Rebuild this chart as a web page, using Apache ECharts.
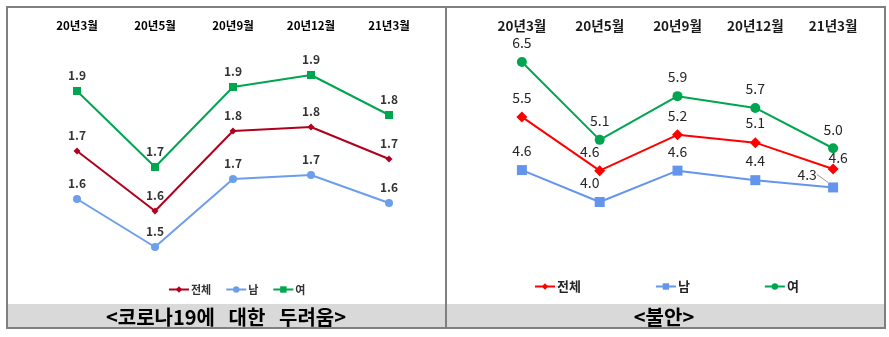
<!DOCTYPE html>
<html>
<head>
<meta charset="utf-8">
<script src="https://cdn.jsdelivr.net/npm/echarts@6/dist/echarts.min.js"></script>
<style>
  html, body { margin: 0; padding: 0; background: #fff; }
  #chart { width: 889px; height: 337px; }
</style>
</head>
<body>
<div id="chart"></div>
<script>
// Survey waves
const categories = ['20년3월', '20년5월', '20년9월', '20년12월', '21년3월'];

// 코로나19에 대한 두려움
const fearTotal = [1.74, 1.59, 1.79, 1.80, 1.72];
const fearMale = [1.62, 1.50, 1.67, 1.68, 1.61];
const fearFemale = [1.89, 1.70, 1.90, 1.93, 1.83];

// 불안
const anxTotal = [5.52, 4.56, 5.20, 5.06, 4.59];
const anxMale = [4.57, 4.00, 4.56, 4.39, 4.26];
const anxFemale = [6.50, 5.11, 5.89, 5.68, 4.96];

const seriesNames = ['전체', '남', '여'];
const panelTitles = ['<코로나19에   대한   두려움>', '<불안>'];

const FONT = '"Noto Sans CJK KR", "Noto Sans", sans-serif';
const fmt = p => p.value.toFixed(1);

// per-point label nudges where labels crowd each other
function withLabel(values, tweaks) {
  return values.map((v, i) => tweaks[i] ? Object.assign({ value: v }, tweaks[i]) : v);
}

const leftLabel = { show: true, position: 'top', distance: 6, formatter: fmt,
  fontFamily: FONT, fontSize: 12, fontWeight: 'bold', color: '#333' };
const rightLabel = { show: true, position: 'top', distance: 7, formatter: fmt,
  fontFamily: FONT, fontSize: 14, color: '#262626' };

function lineSeries(name, data, idx, color, symbol, size, label, extra) {
  return Object.assign({
    name, type: 'line', data, xAxisIndex: idx, yAxisIndex: idx,
    symbol, symbolSize: size, showSymbol: true,
    lineStyle: { color, width: 2 }, itemStyle: { color },
    label, emphasis: { disabled: true }, animation: false, z: 3
  }, extra || {});
}

const chart = echarts.init(document.getElementById('chart'), null, { renderer: 'canvas' });

const option = {
  animation: false,
  graphic: [
    { type: 'rect', shape: { x: 446, y: 304, width: 438, height: 24 }, style: { fill: '#d9d9d9' }, z: -1 },
    { type: 'rect', shape: { x: 8, y: 304, width: 438, height: 24 }, style: { fill: '#d9d9d9' }, z: -1 },
    { type: 'rect', shape: { x: 7, y: 7, width: 878, height: 321 }, style: { fill: 'none', stroke: '#7f7f7f', lineWidth: 2 }, z: 5 },
    { type: 'line', shape: { x1: 446, y1: 7, x2: 446, y2: 328 }, style: { stroke: '#7f7f7f', lineWidth: 2 }, z: 5 },
    { type: 'text', x: 226, y: 317, style: { text: panelTitles[0], font: 'bold 20px ' + FONT, fill: '#000', align: 'center', verticalAlign: 'middle' }, z: 6 },
    { type: 'text', x: 664, y: 317, style: { text: panelTitles[1], font: 'bold 20px ' + FONT, fill: '#000', align: 'center', verticalAlign: 'middle' }, z: 6 }
  ],
  legend: [
    {
      data: seriesNames.map(n => ({ name: n })), left: 163, top: 279,
      itemWidth: 20, itemHeight: 8, itemGap: 14,
      textStyle: { fontFamily: FONT, fontSize: 11, fontWeight: 'bold', color: '#333', padding: [0, 0, 0, -3] },
      selectedMode: false
    },
    {
      data: seriesNames.map(n => ({ name: n + ' ' })), left: 529, top: 275,
      itemWidth: 20, itemHeight: 8, itemGap: 74,
      textStyle: { fontFamily: FONT, fontSize: 13, fontWeight: 'bold', color: '#262626', padding: [0, 0, 0, -3] },
      selectedMode: false,
      formatter: n => n.trim()
    }
  ],
  grid: [
    { left: 38, top: 47, width: 390, height: 240 },
    { left: 483, top: 34, width: 389, height: 224 }
  ],
  xAxis: [0, 1].map(i => ({
    type: 'category', data: categories, gridIndex: i, position: 'top', boundaryGap: true,
    axisLine: { show: false }, axisTick: { show: false }, splitLine: { show: false },
    axisLabel: i === 0
      ? { margin: 16, fontFamily: FONT, fontSize: 11.5, fontWeight: 'bold', color: '#000' }
      : { margin: 1, fontFamily: FONT, fontSize: 13.5, fontWeight: 'bold', color: '#1a1a1a' }
  })),
  yAxis: [
    { type: 'value', gridIndex: 0, min: 1.4, max: 2.0, show: false, splitLine: { show: false } },
    { type: 'value', gridIndex: 1, min: 3.0, max: 7.0, show: false, splitLine: { show: false } }
  ],
  series: [
    lineSeries('전체', fearTotal, 0, '#b0001e', 'diamond', 7, leftLabel),
    lineSeries('남', fearMale, 0, '#6d9eeb', 'circle', 8, leftLabel),
    lineSeries('여', fearFemale, 0, '#00a550', 'rect', 8, leftLabel),
    lineSeries('전체 ', withLabel(anxTotal, {
      1: { label: { offset: [-10, 1] } },
      4: { label: { offset: [5, 8] } }
    }), 1, '#ff0000', 'diamond', 11, rightLabel),
    lineSeries('남 ', withLabel(anxMale, {
      4: { labelLine: { show: true, lineStyle: { color: '#999', width: 1 } } }
    }), 1, '#6495ed', 'rect', 10, rightLabel, {
      labelLayout: p => (p.dataIndex === 4 ? { dx: -26, dy: 6 }
        : p.dataIndex === 1 ? { dx: -10, dy: 0 } : {})
    }),
    lineSeries('여 ', anxFemale, 1, '#00a550', 'circle', 10, rightLabel)
  ]
};

chart.setOption(option);
</script>
</body>
</html>
